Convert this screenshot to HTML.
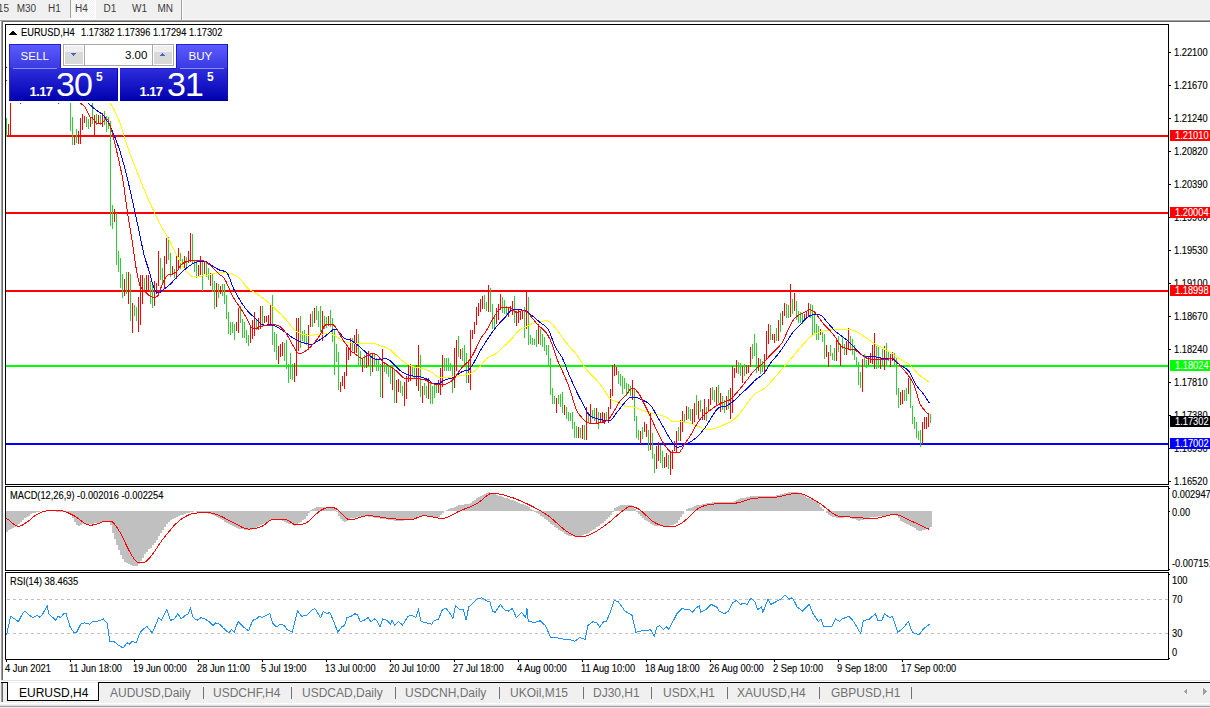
<!DOCTYPE html>
<html><head><meta charset="utf-8"><title>EURUSD,H4</title>
<style>
html,body{margin:0;padding:0;width:1210px;height:708px;overflow:hidden;background:#fff;}
.t{font-family:"Liberation Sans",sans-serif;}
.pn{position:absolute;}
svg{display:block}
</style></head><body>
<svg width="1210" height="708" style="position:absolute;left:0;top:0" shape-rendering="crispEdges">
<rect x="0" y="0" width="1210" height="20" fill="#f0f0f0"/>
<rect x="0" y="19" width="1210" height="1" fill="#f7f7f7"/>
<rect x="0" y="20" width="1210" height="1" fill="#a0a0a0"/>
<rect x="1" y="21" width="1210" height="1" fill="#696969"/>
<defs><pattern id="dith" width="2" height="2" patternUnits="userSpaceOnUse"><rect width="2" height="2" fill="#f0f0f0"/><rect width="1" height="1" fill="#ffffff"/><rect x="1" y="1" width="1" height="1" fill="#ffffff"/></pattern></defs>
<rect x="70" y="0" width="1" height="18" fill="#a0a0a0"/>
<rect x="71" y="0" width="24" height="18" fill="url(#dith)"/>
<rect x="95" y="0" width="1" height="19" fill="#ffffff"/>
<rect x="70" y="18" width="26" height="1" fill="#ffffff"/>
<rect x="181" y="0" width="1" height="20" fill="#a0a0a0"/>
<rect x="182" y="0" width="1" height="20" fill="#ffffff"/>
<text x="-10.5" y="12.3" font-size="10" fill="#3c3c3c" class="t">M15</text>
<text x="16.7" y="12.3" font-size="10" fill="#3c3c3c" class="t">M30</text>
<text x="48" y="12.3" font-size="10" fill="#3c3c3c" class="t">H1</text>
<text x="75" y="12.3" font-size="10" fill="#3c3c3c" class="t">H4</text>
<text x="103.6" y="12.3" font-size="10" fill="#3c3c3c" class="t">D1</text>
<text x="132" y="12.3" font-size="10" fill="#3c3c3c" class="t">W1</text>
<text x="157.5" y="12.3" font-size="10" fill="#3c3c3c" class="t">MN</text>
<rect x="0" y="22" width="1210" height="658" fill="#ffffff"/>
<rect x="0" y="21" width="1" height="659" fill="#f8f8f8"/>
<rect x="1" y="20" width="1" height="660" fill="#a0a0a0"/>
<rect x="2" y="21" width="1" height="659" fill="#696969"/>
<rect x="5" y="24" width="1164" height="1" fill="#000"/>
<rect x="5" y="484" width="1164" height="1" fill="#000"/>
<rect x="5" y="24" width="1" height="461" fill="#000"/>
<rect x="1168" y="24" width="1" height="461" fill="#000"/>
<rect x="5" y="486" width="1164" height="1" fill="#000"/>
<rect x="5" y="570" width="1164" height="1" fill="#000"/>
<rect x="5" y="486" width="1" height="85" fill="#000"/>
<rect x="1168" y="486" width="1" height="85" fill="#000"/>
<rect x="5" y="572" width="1164" height="1" fill="#000"/>
<rect x="5" y="659" width="1164" height="1" fill="#000"/>
<rect x="5" y="572" width="1" height="88" fill="#000"/>
<rect x="1168" y="572" width="1" height="88" fill="#000"/>
<rect x="1169" y="52" width="2" height="1" fill="#000"/>
<text transform="translate(1174 56) scale(0.93 1)" font-size="10" fill="#000" stroke="#000" stroke-width="0.12" class="t">1.22100</text>
<rect x="1169" y="85" width="2" height="1" fill="#000"/>
<text transform="translate(1174 89) scale(0.93 1)" font-size="10" fill="#000" stroke="#000" stroke-width="0.12" class="t">1.21670</text>
<rect x="1169" y="118" width="2" height="1" fill="#000"/>
<text transform="translate(1174 122) scale(0.93 1)" font-size="10" fill="#000" stroke="#000" stroke-width="0.12" class="t">1.21240</text>
<rect x="1169" y="151" width="2" height="1" fill="#000"/>
<text transform="translate(1174 155) scale(0.93 1)" font-size="10" fill="#000" stroke="#000" stroke-width="0.12" class="t">1.20820</text>
<rect x="1169" y="184" width="2" height="1" fill="#000"/>
<text transform="translate(1174 188) scale(0.93 1)" font-size="10" fill="#000" stroke="#000" stroke-width="0.12" class="t">1.20390</text>
<rect x="1169" y="217" width="2" height="1" fill="#000"/>
<text transform="translate(1174 221) scale(0.93 1)" font-size="10" fill="#000" stroke="#000" stroke-width="0.12" class="t">1.19960</text>
<rect x="1169" y="250" width="2" height="1" fill="#000"/>
<text transform="translate(1174 254) scale(0.93 1)" font-size="10" fill="#000" stroke="#000" stroke-width="0.12" class="t">1.19530</text>
<rect x="1169" y="283" width="2" height="1" fill="#000"/>
<text transform="translate(1174 287) scale(0.93 1)" font-size="10" fill="#000" stroke="#000" stroke-width="0.12" class="t">1.19100</text>
<rect x="1169" y="316" width="2" height="1" fill="#000"/>
<text transform="translate(1174 320) scale(0.93 1)" font-size="10" fill="#000" stroke="#000" stroke-width="0.12" class="t">1.18670</text>
<rect x="1169" y="349" width="2" height="1" fill="#000"/>
<text transform="translate(1174 353) scale(0.93 1)" font-size="10" fill="#000" stroke="#000" stroke-width="0.12" class="t">1.18240</text>
<rect x="1169" y="382" width="2" height="1" fill="#000"/>
<text transform="translate(1174 386) scale(0.93 1)" font-size="10" fill="#000" stroke="#000" stroke-width="0.12" class="t">1.17810</text>
<rect x="1169" y="415" width="2" height="1" fill="#000"/>
<text transform="translate(1174 419) scale(0.93 1)" font-size="10" fill="#000" stroke="#000" stroke-width="0.12" class="t">1.17380</text>
<rect x="1169" y="448" width="2" height="1" fill="#000"/>
<text transform="translate(1174 452) scale(0.93 1)" font-size="10" fill="#000" stroke="#000" stroke-width="0.12" class="t">1.16950</text>
<rect x="1169" y="481" width="2" height="1" fill="#000"/>
<text transform="translate(1174 485) scale(0.93 1)" font-size="10" fill="#000" stroke="#000" stroke-width="0.12" class="t">1.16520</text>
<rect x="1169" y="488" width="1" height="1" fill="#000"/>
<rect x="1169" y="511" width="1" height="1" fill="#000"/>
<rect x="1169" y="569" width="1" height="1" fill="#000"/>
<text transform="translate(1172 498) scale(0.93 1)" font-size="10" fill="#000" stroke="#000" stroke-width="0.12" class="t">0.002947</text>
<text transform="translate(1172 515.5) scale(0.93 1)" font-size="10" fill="#000" stroke="#000" stroke-width="0.12" class="t">0.00</text>
<text transform="translate(1172 567) scale(0.93 1)" font-size="10" fill="#000" stroke="#000" stroke-width="0.12" class="t">-0.007151</text>
<rect x="1169" y="574" width="1" height="1" fill="#000"/>
<rect x="1169" y="658" width="1" height="1" fill="#000"/>
<text transform="translate(1172 584) scale(0.93 1)" font-size="10" fill="#000" stroke="#000" stroke-width="0.12" class="t">100</text>
<text transform="translate(1172 603) scale(0.93 1)" font-size="10" fill="#000" stroke="#000" stroke-width="0.12" class="t">70</text>
<text transform="translate(1172 637) scale(0.93 1)" font-size="10" fill="#000" stroke="#000" stroke-width="0.12" class="t">30</text>
<text transform="translate(1172 656) scale(0.93 1)" font-size="10" fill="#000" stroke="#000" stroke-width="0.12" class="t">0</text>
<rect x="6" y="660" width="1" height="2" fill="#000"/>
<text transform="translate(5 672) scale(0.93 1)" font-size="10" fill="#000" stroke="#000" stroke-width="0.12" class="t">4 Jun 2021</text>
<rect x="70" y="660" width="1" height="2" fill="#000"/>
<text transform="translate(69 672) scale(0.93 1)" font-size="10" fill="#000" stroke="#000" stroke-width="0.12" class="t">11 Jun 18:00</text>
<rect x="134" y="660" width="1" height="2" fill="#000"/>
<text transform="translate(133 672) scale(0.93 1)" font-size="10" fill="#000" stroke="#000" stroke-width="0.12" class="t">19 Jun 00:00</text>
<rect x="198" y="660" width="1" height="2" fill="#000"/>
<text transform="translate(197 672) scale(0.93 1)" font-size="10" fill="#000" stroke="#000" stroke-width="0.12" class="t">28 Jun 11:00</text>
<rect x="262" y="660" width="1" height="2" fill="#000"/>
<text transform="translate(261 672) scale(0.93 1)" font-size="10" fill="#000" stroke="#000" stroke-width="0.12" class="t">5 Jul 19:00</text>
<rect x="326" y="660" width="1" height="2" fill="#000"/>
<text transform="translate(325 672) scale(0.93 1)" font-size="10" fill="#000" stroke="#000" stroke-width="0.12" class="t">13 Jul 00:00</text>
<rect x="390" y="660" width="1" height="2" fill="#000"/>
<text transform="translate(389 672) scale(0.93 1)" font-size="10" fill="#000" stroke="#000" stroke-width="0.12" class="t">20 Jul 10:00</text>
<rect x="454" y="660" width="1" height="2" fill="#000"/>
<text transform="translate(453 672) scale(0.93 1)" font-size="10" fill="#000" stroke="#000" stroke-width="0.12" class="t">27 Jul 18:00</text>
<rect x="518" y="660" width="1" height="2" fill="#000"/>
<text transform="translate(517 672) scale(0.93 1)" font-size="10" fill="#000" stroke="#000" stroke-width="0.12" class="t">4 Aug 00:00</text>
<rect x="582" y="660" width="1" height="2" fill="#000"/>
<text transform="translate(581 672) scale(0.93 1)" font-size="10" fill="#000" stroke="#000" stroke-width="0.12" class="t">11 Aug 10:00</text>
<rect x="646" y="660" width="1" height="2" fill="#000"/>
<text transform="translate(645 672) scale(0.93 1)" font-size="10" fill="#000" stroke="#000" stroke-width="0.12" class="t">18 Aug 18:00</text>
<rect x="710" y="660" width="1" height="2" fill="#000"/>
<text transform="translate(709 672) scale(0.93 1)" font-size="10" fill="#000" stroke="#000" stroke-width="0.12" class="t">26 Aug 00:00</text>
<rect x="774" y="660" width="1" height="2" fill="#000"/>
<text transform="translate(773 672) scale(0.93 1)" font-size="10" fill="#000" stroke="#000" stroke-width="0.12" class="t">2 Sep 10:00</text>
<rect x="838" y="660" width="1" height="2" fill="#000"/>
<text transform="translate(837 672) scale(0.93 1)" font-size="10" fill="#000" stroke="#000" stroke-width="0.12" class="t">9 Sep 18:00</text>
<rect x="902" y="660" width="1" height="2" fill="#000"/>
<text transform="translate(901 672) scale(0.93 1)" font-size="10" fill="#000" stroke="#000" stroke-width="0.12" class="t">17 Sep 00:00</text>
<clipPath id="cm"><rect x="6" y="25" width="1162" height="459"/></clipPath>
<clipPath id="cmacd"><rect x="6" y="487" width="1162" height="83"/></clipPath>
<clipPath id="crsi"><rect x="6" y="573" width="1162" height="86"/></clipPath>
<g clip-path="url(#cm)">
<rect x="6" y="135" width="1163" height="2" fill="#ff0000"/>
<rect x="6" y="212" width="1163" height="2" fill="#ff0000"/>
<rect x="6" y="290" width="1163" height="2" fill="#ff0000"/>
<rect x="6" y="365" width="1163" height="2" fill="#00ff00"/>
<rect x="6" y="443" width="1163" height="2" fill="#0000ff"/>
<path d="M6.5 118V137M70.5 103V131M72.5 117V145M76.5 129V143M86.5 117V127M88.5 119V129M92.5 103V124M96.5 114V125M100.5 115V125M104.5 111V125M106.5 116V132M108.5 117V129M110.5 121V226M112.5 205V229M116.5 213V265M118.5 251V272M120.5 258V288M122.5 274V298M126.5 272V294M130.5 274V321M134.5 305V316M136.5 307V321M144.5 278V291M150.5 281V304M152.5 283V308M160.5 258V280M162.5 268V284M168.5 237V260M170.5 253V277M174.5 269V278M180.5 253V269M182.5 259V265M186.5 257V268M192.5 234V263M194.5 260V272M196.5 260V278M202.5 262V291M206.5 263V277M208.5 268V280M212.5 274V292M214.5 281V309M218.5 284V298M222.5 284V296M224.5 284V304M226.5 295V319M228.5 312V334M230.5 322V335M232.5 322V333M234.5 324V340M240.5 306V323M242.5 319V338M244.5 322V338M246.5 330V343M248.5 335V346M256.5 320V330M262.5 306V326M272.5 295V345M274.5 332V352M276.5 334V360M284.5 343V361M286.5 340V369M288.5 364V383M290.5 353V379M292.5 364V380M300.5 316V348M302.5 331V341M304.5 330V343M306.5 334V345M312.5 311V327M316.5 306V320M318.5 311V327M320.5 306V332M324.5 316V329M326.5 317V328M330.5 310V327M332.5 318V342M334.5 329V375M336.5 344V362M338.5 352V390M352.5 338V351M358.5 334V365M360.5 351V366M364.5 355V368M370.5 354V376M374.5 354V366M376.5 358V371M378.5 359V371M380.5 364V397M384.5 363V372M386.5 363V374M388.5 366V377M390.5 367V384M394.5 369V403M400.5 381V393M402.5 386V396M412.5 367V377M414.5 368V378M420.5 355V397M424.5 383V395M426.5 386V398M430.5 383V404M432.5 386V404M434.5 383V398M436.5 384V393M444.5 358V371M446.5 358V371M448.5 358V371M450.5 363V371M452.5 367V393M458.5 336V357M462.5 348V361M464.5 345V364M466.5 353V383M484.5 295V309M486.5 302V311M490.5 288V312M492.5 304V329M494.5 316V328M502.5 297V313M504.5 300V314M506.5 306V317M514.5 296V323M524.5 307V338M528.5 297V345M530.5 335V344M532.5 338V345M534.5 339V345M536.5 330V347M540.5 329V345M542.5 334V347M544.5 337V351M546.5 345V355M548.5 345V366M550.5 358V395M552.5 388V404M554.5 396V404M558.5 395V404M560.5 394V407M562.5 392V413M566.5 407V419M568.5 412V421M570.5 413V421M572.5 412V429M574.5 422V438M576.5 426V438M580.5 428V438M584.5 425V440M588.5 412V423M592.5 410V419M594.5 408V421M598.5 412V429M606.5 412V421M618.5 371V384M620.5 374V386M622.5 376V394M624.5 378V389M626.5 383V396M628.5 384V392M630.5 386V396M634.5 388V421M636.5 416V438M638.5 430V440M642.5 427V439M648.5 430V451M652.5 433V459M654.5 454V473M660.5 445V463M662.5 451V468M668.5 455V469M678.5 427V441M684.5 414V422M688.5 407V419M690.5 409V421M696.5 395V415M700.5 400V412M706.5 407V421M712.5 387V400M714.5 390V402M718.5 385V403M722.5 396V410M724.5 400V413M728.5 390V409M738.5 362V374M740.5 363V376M744.5 364V376M752.5 344V359M754.5 334V356M756.5 343V373M760.5 359V374M762.5 361V372M770.5 325V340M776.5 328V341M780.5 313V332M786.5 304V318M788.5 305V318M792.5 299V314M796.5 301V320M798.5 311V323M800.5 312V323M802.5 314V324M810.5 304V318M812.5 305V335M814.5 313V335M816.5 324V340M818.5 326V340M822.5 331V342M824.5 334V359M830.5 345V356M832.5 353V360M834.5 348V361M838.5 336V352M842.5 337V349M844.5 344V355M850.5 336V351M852.5 339V355M854.5 345V360M856.5 357V366M858.5 362V385M860.5 372V388M864.5 354V367M866.5 360V368M876.5 346V369M878.5 347V368M882.5 349V366M886.5 343V365M888.5 351V361M894.5 353V366M896.5 358V395M898.5 388V408M904.5 390V401M906.5 388V401M910.5 377V408M912.5 406V424M914.5 417V429M916.5 422V438M918.5 431V440M920.5 430V447M930.5 414V423" stroke="#32cd32" stroke-width="1" fill="none"/>
<path d="M8.5 124V137M10.5 103V137M20.5 103V104M58.5 103V104M74.5 136V145M78.5 131V144M80.5 118V144M82.5 114V130M84.5 116V123M90.5 117V127M94.5 115V137M98.5 115V123M102.5 113V127M114.5 209V222M124.5 279V296M128.5 272V304M132.5 303V333M138.5 297V332M140.5 275V325M142.5 275V304M146.5 275V294M148.5 275V291M154.5 281V306M156.5 283V294M158.5 251V286M164.5 256V288M166.5 238V264M172.5 266V273M176.5 256V279M178.5 248V269M184.5 256V270M188.5 251V263M190.5 233V262M198.5 265V276M200.5 256V275M204.5 262V274M210.5 273V286M216.5 283V307M220.5 286V294M236.5 322V331M238.5 308V333M250.5 327V343M252.5 320V339M254.5 312V336M258.5 318V330M260.5 306V329M264.5 316V323M266.5 316V322M268.5 315V324M270.5 305V325M278.5 346V364M280.5 344V357M282.5 342V356M294.5 363V382M296.5 318V376M298.5 318V351M308.5 325V350M310.5 314V327M314.5 308V323M322.5 311V341M328.5 316V326M340.5 382V392M342.5 376V386M344.5 372V389M346.5 347V376M348.5 347V360M350.5 338V356M354.5 335V354M356.5 329V353M362.5 358V372M366.5 354V368M368.5 351V366M372.5 353V372M382.5 349V398M392.5 367V390M396.5 380V403M398.5 379V392M404.5 382V406M406.5 376V399M408.5 365V382M410.5 364V381M416.5 365V386M418.5 345V391M422.5 386V403M428.5 378V399M438.5 380V393M440.5 368V395M442.5 355V387M454.5 348V388M456.5 340V371M460.5 349V359M468.5 360V383M470.5 330V390M472.5 330V339M474.5 322V334M476.5 307V325M478.5 303V316M480.5 299V312M482.5 296V309M488.5 285V312M496.5 308V324M498.5 304V320M500.5 294V310M508.5 308V317M510.5 306V312M512.5 301V315M516.5 311V326M518.5 310V323M520.5 311V320M522.5 310V319M526.5 291V329M538.5 324V344M556.5 398V413M564.5 405V415M578.5 427V438M582.5 425V439M586.5 407V440M590.5 404V424M596.5 408V424M600.5 413V423M602.5 412V423M604.5 413V424M608.5 407V423M610.5 389V409M612.5 365V396M614.5 364V376M616.5 367V375M632.5 380V400M640.5 431V444M644.5 422V432M646.5 424V437M650.5 412V450M656.5 446V469M658.5 442V461M664.5 457V468M666.5 453V467M670.5 452V475M672.5 450V469M674.5 441V451M676.5 431V452M680.5 420V441M682.5 411V432M686.5 406V420M692.5 409V424M694.5 403V422M698.5 401V419M702.5 409V420M704.5 399V420M708.5 399V412M710.5 388V405M716.5 387V406M720.5 393V412M726.5 396V410M730.5 388V419M732.5 366V413M734.5 368V378M736.5 360V373M742.5 366V383M746.5 365V374M748.5 365V373M750.5 347V367M758.5 358V371M764.5 354V374M766.5 331V360M768.5 324V344M772.5 334V340M774.5 334V343M778.5 320V341M782.5 311V325M784.5 303V316M790.5 284V317M794.5 293V311M804.5 314V321M806.5 311V319M808.5 303V316M820.5 329V335M826.5 345V357M828.5 352V367M836.5 340V361M840.5 344V366M846.5 341V355M848.5 328V350M862.5 359V392M868.5 357V365M870.5 353V363M872.5 345V364M874.5 333V369M880.5 358V369M884.5 346V370M890.5 354V367M892.5 352V361M900.5 392V405M902.5 390V404M908.5 378V394M922.5 422V444M924.5 417V429M926.5 417V429M928.5 415V427" stroke="#ff0000" stroke-width="1" fill="none"/>
</g>
<g clip-path="url(#cm)">
<polyline points="110.0,103.0 112.0,106.2 114.0,109.6 116.0,113.6 118.0,118.0 120.0,123.0 122.0,129.0 124.0,135.7 126.0,142.2 128.0,148.0 130.0,153.6 132.0,159.0 134.0,164.2 136.0,169.4 138.0,174.4 140.0,179.3 142.0,184.2 144.0,189.0 146.0,193.7 148.0,198.4 150.0,202.9 152.0,207.4 154.0,211.7 156.0,215.9 158.0,220.0 160.0,224.0 162.0,227.7 164.0,231.0 166.0,234.3 168.0,237.7 170.0,241.5 172.0,245.6 174.0,249.7 176.0,253.7 178.0,257.5 180.0,261.2 182.0,264.8 184.0,268.1 186.0,270.7 188.0,273.1 190.0,275.0 192.0,276.3 194.0,276.8 196.0,276.7 198.0,276.6 200.0,276.4 202.0,276.1 204.0,275.7 206.0,275.2 208.0,274.6 210.0,274.2 212.0,273.8 214.0,273.4 216.0,273.1 218.0,272.9 220.0,272.7 222.0,272.5 224.0,272.5 226.0,272.6 228.0,272.9 230.0,273.4 232.0,274.0 234.0,274.9 236.0,276.0 238.0,277.2 240.0,278.8 242.0,280.9 244.0,283.6 246.0,286.4 248.0,288.6 250.0,290.1 252.0,291.1 254.0,292.1 256.0,293.4 258.0,294.7 260.0,296.1 262.0,297.5 264.0,299.1 266.0,300.6 268.0,302.3 270.0,304.0 272.0,305.8 274.0,307.6 276.0,309.5 278.0,311.4 280.0,313.3 282.0,315.3 284.0,317.4 286.0,319.6 288.0,322.0 290.0,324.5 292.0,327.0 294.0,329.3 296.0,331.0 298.0,332.4 300.0,333.6 302.0,334.4 304.0,334.9 306.0,335.0 308.0,335.0 310.0,335.0 312.0,335.0 314.0,335.0 316.0,334.9 318.0,334.7 320.0,334.4 322.0,334.1 324.0,333.9 326.0,333.6 328.0,333.5 330.0,333.4 332.0,334.0 334.0,335.0 336.0,336.4 338.0,337.6 340.0,339.0 342.0,340.5 344.0,341.9 346.0,342.7 348.0,342.6 350.0,342.4 352.0,342.6 354.0,342.9 356.0,343.4 358.0,343.8 360.0,344.0 362.0,343.9 364.0,343.8 366.0,343.6 368.0,343.4 370.0,343.3 372.0,343.2 374.0,343.4 376.0,344.0 378.0,344.8 380.0,345.6 382.0,346.3 384.0,346.8 386.0,347.5 388.0,348.4 390.0,349.7 392.0,351.5 394.0,353.4 396.0,355.4 398.0,357.2 400.0,358.9 402.0,360.6 404.0,362.2 406.0,363.5 408.0,364.6 410.0,365.5 412.0,366.2 414.0,366.9 416.0,367.4 418.0,367.7 420.0,368.0 422.0,368.3 424.0,368.9 426.0,369.6 428.0,370.3 430.0,371.2 432.0,372.4 434.0,374.0 436.0,375.7 438.0,377.0 440.0,377.5 442.0,377.6 444.0,377.5 446.0,377.5 448.0,377.4 450.0,377.2 452.0,376.9 454.0,376.6 456.0,376.4 458.0,376.1 460.0,375.9 462.0,375.6 464.0,375.3 466.0,374.8 468.0,374.2 470.0,373.5 472.0,372.5 474.0,371.3 476.0,369.9 478.0,368.3 480.0,366.4 482.0,364.1 484.0,361.6 486.0,359.3 488.0,357.5 490.0,356.4 492.0,355.6 494.0,354.8 496.0,353.7 498.0,352.0 500.0,350.2 502.0,348.2 504.0,346.3 506.0,344.4 508.0,342.5 510.0,340.6 512.0,338.5 514.0,336.3 516.0,333.9 518.0,331.5 520.0,329.7 522.0,328.5 524.0,327.7 526.0,326.9 528.0,325.9 530.0,324.8 532.0,323.8 534.0,323.0 536.0,322.4 538.0,322.0 540.0,321.6 542.0,321.3 544.0,321.0 546.0,320.8 548.0,321.0 550.0,322.2 552.0,324.1 554.0,326.4 556.0,328.8 558.0,331.2 560.0,333.8 562.0,336.7 564.0,339.6 566.0,342.4 568.0,344.9 570.0,347.2 572.0,349.4 574.0,351.5 576.0,353.9 578.0,356.6 580.0,359.8 582.0,363.1 584.0,366.4 586.0,369.3 588.0,371.5 590.0,373.5 592.0,375.4 594.0,377.4 596.0,379.6 598.0,381.9 600.0,384.3 602.0,386.9 604.0,389.7 606.0,393.0 608.0,396.2 610.0,398.5 612.0,399.9 614.0,400.7 616.0,401.4 618.0,402.2 620.0,403.3 622.0,404.4 624.0,405.4 626.0,406.3 628.0,406.7 630.0,406.9 632.0,406.9 634.0,407.1 636.0,407.6 638.0,408.4 640.0,409.3 642.0,410.2 644.0,411.0 646.0,411.6 648.0,412.2 650.0,412.8 652.0,413.3 654.0,413.9 656.0,414.4 658.0,414.8 660.0,415.2 662.0,415.7 664.0,416.2 666.0,417.0 668.0,418.4 670.0,420.0 672.0,421.3 674.0,421.9 676.0,421.9 678.0,421.9 680.0,421.9 682.0,421.9 684.0,422.0 686.0,422.3 688.0,422.7 690.0,423.3 692.0,423.9 694.0,424.7 696.0,425.6 698.0,426.5 700.0,427.2 702.0,428.0 704.0,428.7 706.0,429.3 708.0,429.5 710.0,429.4 712.0,429.0 714.0,428.5 716.0,427.9 718.0,427.3 720.0,426.5 722.0,425.7 724.0,424.8 726.0,423.8 728.0,422.9 730.0,421.9 732.0,420.8 734.0,419.3 736.0,417.6 738.0,415.4 740.0,413.0 742.0,410.4 744.0,407.7 746.0,404.9 748.0,402.2 750.0,399.6 752.0,397.1 754.0,394.9 756.0,393.1 758.0,391.8 760.0,390.9 762.0,389.9 764.0,388.6 766.0,386.9 768.0,384.9 770.0,382.8 772.0,380.6 774.0,378.4 776.0,376.2 778.0,373.8 780.0,371.5 782.0,369.1 784.0,366.7 786.0,364.4 788.0,362.1 790.0,359.8 792.0,357.5 794.0,355.2 796.0,352.8 798.0,350.4 800.0,348.1 802.0,345.7 804.0,343.5 806.0,341.3 808.0,339.1 810.0,337.2 812.0,335.6 814.0,334.3 816.0,333.3 818.0,332.4 820.0,331.7 822.0,331.2 824.0,330.8 826.0,330.5 828.0,330.3 830.0,330.0 832.0,329.7 834.0,329.4 836.0,329.3 838.0,329.3 840.0,329.3 842.0,329.3 844.0,329.3 846.0,329.3 848.0,329.3 850.0,329.5 852.0,330.0 854.0,330.8 856.0,331.7 858.0,332.6 860.0,333.8 862.0,335.0 864.0,336.4 866.0,337.7 868.0,339.1 870.0,340.5 872.0,342.0 874.0,343.4 876.0,344.6 878.0,345.6 880.0,346.6 882.0,347.6 884.0,348.7 886.0,349.8 888.0,351.0 890.0,352.2 892.0,353.5 894.0,354.8 896.0,356.2 898.0,357.7 900.0,359.1 902.0,360.4 904.0,361.5 906.0,362.5 908.0,363.6 910.0,365.0 912.0,366.9 914.0,369.2 916.0,371.6 918.0,373.8 920.0,375.6 922.0,377.2 924.0,378.6 926.0,380.0 928.0,381.4 929.3,382.4" stroke="#ffff00" stroke-width="1" fill="none"/>
<polyline points="88.0,103.0 90.0,104.8 92.0,106.6 94.0,108.4 96.0,110.0 98.0,111.3 100.0,112.5 102.0,114.0 104.0,116.2 106.0,119.0 108.0,122.3 110.0,126.0 112.0,130.3 114.0,135.1 116.0,140.0 118.0,145.4 120.0,151.3 122.0,158.0 124.0,165.4 126.0,173.1 128.0,181.2 130.0,189.8 132.0,198.7 134.0,207.7 136.0,216.9 138.0,226.3 140.0,235.7 142.0,245.4 144.0,254.6 146.0,261.4 148.0,267.4 150.0,274.3 152.0,281.8 154.0,288.1 156.0,291.7 158.0,293.0 160.0,292.4 162.0,290.7 164.0,289.1 166.0,287.6 168.0,286.1 170.0,284.4 172.0,282.4 174.0,280.1 176.0,277.8 178.0,275.8 180.0,273.8 182.0,271.9 184.0,270.1 186.0,268.5 188.0,267.0 190.0,265.5 192.0,264.2 194.0,263.1 196.0,262.3 198.0,261.8 200.0,261.5 202.0,261.5 204.0,261.5 206.0,261.7 208.0,262.9 210.0,264.5 212.0,265.7 214.0,266.9 216.0,268.1 218.0,269.3 220.0,270.3 222.0,270.7 224.0,271.1 226.0,272.0 228.0,274.3 230.0,279.1 232.0,284.8 234.0,289.4 236.0,293.3 238.0,296.8 240.0,300.2 242.0,303.4 244.0,306.3 246.0,309.0 248.0,311.5 250.0,313.6 252.0,315.4 254.0,317.1 256.0,319.0 258.0,321.1 260.0,323.1 262.0,324.5 264.0,325.0 266.0,325.1 268.0,324.9 270.0,324.7 272.0,325.0 274.0,325.7 276.0,326.6 278.0,327.6 280.0,328.8 282.0,330.0 284.0,331.4 286.0,332.9 288.0,334.5 290.0,336.0 292.0,337.4 294.0,338.6 296.0,339.6 298.0,340.6 300.0,341.4 302.0,342.3 304.0,343.0 306.0,343.7 308.0,344.1 310.0,344.4 312.0,344.3 314.0,343.4 316.0,342.1 318.0,340.8 320.0,339.7 322.0,338.5 324.0,337.2 326.0,335.6 328.0,333.8 330.0,332.2 332.0,330.4 334.0,329.1 336.0,329.4 338.0,331.0 340.0,333.1 342.0,335.7 344.0,337.9 346.0,339.1 348.0,339.3 350.0,339.8 352.0,340.9 354.0,342.3 356.0,343.8 358.0,345.4 360.0,347.1 362.0,348.9 364.0,350.7 366.0,352.5 368.0,354.2 370.0,355.9 372.0,357.5 374.0,358.6 376.0,359.4 378.0,359.9 380.0,360.0 382.0,359.3 384.0,358.6 386.0,358.7 388.0,359.4 390.0,360.7 392.0,362.5 394.0,364.4 396.0,366.4 398.0,368.5 400.0,370.4 402.0,371.8 404.0,373.0 406.0,373.9 408.0,374.8 410.0,375.4 412.0,375.9 414.0,376.2 416.0,376.5 418.0,376.6 420.0,376.8 422.0,377.2 424.0,377.9 426.0,378.7 428.0,379.7 430.0,381.1 432.0,382.8 434.0,383.9 436.0,383.9 438.0,383.6 440.0,382.9 442.0,381.8 444.0,380.5 446.0,379.6 448.0,379.1 450.0,378.7 452.0,378.1 454.0,377.2 456.0,375.9 458.0,374.4 460.0,372.9 462.0,371.6 464.0,370.9 466.0,370.5 468.0,369.9 470.0,368.6 472.0,366.1 474.0,362.6 476.0,358.7 478.0,354.8 480.0,351.3 482.0,348.0 484.0,344.7 486.0,341.6 488.0,338.5 490.0,335.5 492.0,332.6 494.0,329.8 496.0,327.3 498.0,324.9 500.0,322.7 502.0,320.6 504.0,318.5 506.0,316.2 508.0,313.5 510.0,311.2 512.0,309.8 514.0,309.7 516.0,309.7 518.0,309.7 520.0,309.8 522.0,310.0 524.0,310.5 526.0,311.2 528.0,312.3 530.0,313.9 532.0,315.6 534.0,317.2 536.0,319.0 538.0,320.7 540.0,322.5 542.0,324.0 544.0,325.2 546.0,326.8 548.0,329.2 550.0,333.1 552.0,338.5 554.0,344.0 556.0,348.3 558.0,351.3 560.0,354.0 562.0,357.3 564.0,361.8 566.0,367.0 568.0,372.2 570.0,377.0 572.0,381.6 574.0,386.1 576.0,390.3 578.0,394.5 580.0,398.4 582.0,402.2 584.0,406.1 586.0,410.0 588.0,413.4 590.0,415.8 592.0,417.1 594.0,417.7 596.0,418.3 598.0,418.9 600.0,419.5 602.0,419.9 604.0,420.2 606.0,420.5 608.0,420.7 610.0,420.7 612.0,419.2 614.0,416.4 616.0,413.6 618.0,411.1 620.0,408.5 622.0,405.9 624.0,403.4 626.0,400.8 628.0,398.8 630.0,397.6 632.0,397.1 634.0,397.0 636.0,397.4 638.0,398.1 640.0,399.0 642.0,399.9 644.0,400.8 646.0,401.7 648.0,402.9 650.0,404.7 652.0,407.3 654.0,410.6 656.0,414.3 658.0,417.7 660.0,421.2 662.0,424.7 664.0,428.2 666.0,431.8 668.0,435.5 670.0,438.8 672.0,441.8 674.0,444.7 676.0,446.8 678.0,447.3 680.0,446.8 682.0,445.9 684.0,444.9 686.0,443.9 688.0,443.0 690.0,442.1 692.0,440.9 694.0,439.5 696.0,437.9 698.0,436.0 700.0,433.9 702.0,431.6 704.0,429.1 706.0,426.3 708.0,423.2 710.0,419.9 712.0,416.5 714.0,413.5 716.0,410.5 718.0,408.3 720.0,407.2 722.0,406.7 724.0,406.5 726.0,406.0 728.0,405.0 730.0,403.7 732.0,402.3 734.0,400.6 736.0,398.9 738.0,396.8 740.0,394.7 742.0,392.9 744.0,391.2 746.0,389.5 748.0,387.6 750.0,385.5 752.0,383.4 754.0,381.3 756.0,379.5 758.0,378.0 760.0,376.7 762.0,375.3 764.0,373.3 766.0,370.5 768.0,367.2 770.0,364.0 772.0,361.3 774.0,358.9 776.0,356.7 778.0,354.3 780.0,351.6 782.0,348.8 784.0,345.8 786.0,342.8 788.0,339.7 790.0,336.5 792.0,333.5 794.0,331.1 796.0,329.1 798.0,327.3 800.0,325.3 802.0,322.9 804.0,320.5 806.0,318.5 808.0,316.9 810.0,315.6 812.0,314.9 814.0,314.8 816.0,314.6 818.0,314.6 820.0,315.0 822.0,316.1 824.0,318.2 826.0,320.8 828.0,323.1 830.0,325.4 832.0,327.7 834.0,329.8 836.0,331.8 838.0,333.5 840.0,335.0 842.0,336.4 844.0,337.8 846.0,339.3 848.0,341.0 850.0,343.0 852.0,345.1 854.0,347.2 856.0,349.3 858.0,351.5 860.0,353.6 862.0,355.2 864.0,356.1 866.0,356.3 868.0,356.3 870.0,356.2 872.0,356.4 874.0,356.7 876.0,357.0 878.0,357.4 880.0,357.8 882.0,358.1 884.0,358.3 886.0,358.3 888.0,358.3 890.0,358.4 892.0,359.0 894.0,360.2 896.0,361.8 898.0,363.5 900.0,365.0 902.0,366.2 904.0,367.2 906.0,368.5 908.0,370.3 910.0,373.0 912.0,376.8 914.0,381.0 916.0,384.7 918.0,387.6 920.0,389.9 922.0,392.2 924.0,394.8 926.0,397.8 928.0,401.0 929.3,403.0" stroke="#0000ff" stroke-width="1" fill="none"/>
<polyline points="80.0,103.0 82.0,104.3 84.0,105.8 86.0,108.7 88.0,113.3 90.0,117.0 92.0,117.5 94.0,120.0 96.0,123.0 98.0,123.9 100.0,124.0 102.0,122.9 104.0,121.0 106.0,119.4 108.0,119.9 110.0,125.4 112.0,132.0 114.0,139.6 116.0,148.0 118.0,156.8 120.0,165.6 122.0,175.3 124.0,187.1 126.0,201.8 128.0,215.9 130.0,227.9 132.0,239.7 134.0,253.6 136.0,267.5 138.0,277.9 140.0,285.4 142.0,289.3 144.0,290.6 146.0,292.4 148.0,294.5 150.0,296.1 152.0,297.0 154.0,297.2 156.0,297.2 158.0,295.6 160.0,290.0 162.0,285.0 164.0,280.6 166.0,277.1 168.0,275.0 170.0,274.5 172.0,274.3 174.0,273.3 176.0,271.9 178.0,269.8 180.0,266.6 182.0,264.0 184.0,262.6 186.0,261.8 188.0,261.2 190.0,260.6 192.0,260.2 194.0,260.0 196.0,260.0 198.0,260.0 200.0,260.0 202.0,260.2 204.0,261.0 206.0,262.1 208.0,263.5 210.0,265.1 212.0,266.9 214.0,268.9 216.0,271.0 218.0,273.1 220.0,274.8 222.0,276.1 224.0,277.9 226.0,281.5 228.0,286.1 230.0,290.5 232.0,294.7 234.0,298.6 236.0,301.9 238.0,304.6 240.0,307.5 242.0,310.6 244.0,313.9 246.0,317.3 248.0,321.2 250.0,325.3 252.0,328.1 254.0,329.0 256.0,328.8 258.0,327.7 260.0,326.6 262.0,326.2 264.0,325.9 266.0,325.7 268.0,325.4 270.0,325.1 272.0,325.0 274.0,324.9 276.0,325.0 278.0,325.5 280.0,326.6 282.0,328.4 284.0,330.6 286.0,333.2 288.0,336.4 290.0,340.0 292.0,343.8 294.0,347.3 296.0,350.4 298.0,353.2 300.0,353.6 302.0,353.0 304.0,352.0 306.0,350.6 308.0,349.1 310.0,347.3 312.0,345.3 314.0,343.0 316.0,340.7 318.0,338.1 320.0,334.9 322.0,330.5 324.0,326.5 326.0,324.5 328.0,324.0 330.0,324.0 332.0,324.0 334.0,325.3 336.0,327.8 338.0,330.8 340.0,334.4 342.0,338.3 344.0,341.5 346.0,344.3 348.0,347.0 350.0,350.0 352.0,351.9 354.0,353.2 356.0,354.5 358.0,356.0 360.0,357.7 362.0,358.5 364.0,357.8 366.0,356.6 368.0,355.4 370.0,354.1 372.0,353.4 374.0,353.6 376.0,354.3 378.0,356.0 380.0,358.5 382.0,361.0 384.0,362.7 386.0,364.1 388.0,365.4 390.0,366.5 392.0,367.5 394.0,369.0 396.0,370.7 398.0,372.5 400.0,374.6 402.0,376.6 404.0,378.1 406.0,378.8 408.0,378.6 410.0,378.4 412.0,378.3 414.0,378.4 416.0,378.6 418.0,378.8 420.0,379.0 422.0,379.2 424.0,379.5 426.0,380.2 428.0,381.3 430.0,382.4 432.0,383.2 434.0,383.9 436.0,384.5 438.0,384.7 440.0,384.8 442.0,384.8 444.0,384.6 446.0,384.0 448.0,383.1 450.0,382.0 452.0,380.6 454.0,378.7 456.0,376.1 458.0,373.1 460.0,370.1 462.0,367.4 464.0,365.3 466.0,363.6 468.0,361.8 470.0,359.5 472.0,356.4 474.0,352.6 476.0,348.6 478.0,344.1 480.0,339.7 482.0,336.5 484.0,334.1 486.0,331.3 488.0,327.7 490.0,323.9 492.0,320.4 494.0,316.8 496.0,313.7 498.0,311.0 500.0,308.8 502.0,307.5 504.0,307.2 506.0,307.2 508.0,307.2 510.0,307.6 512.0,308.8 514.0,311.0 516.0,312.3 518.0,312.0 520.0,311.3 522.0,310.7 524.0,310.7 526.0,311.6 528.0,313.0 530.0,315.1 532.0,317.7 534.0,320.2 536.0,322.7 538.0,325.0 540.0,326.8 542.0,328.5 544.0,330.3 546.0,332.5 548.0,335.5 550.0,339.3 552.0,344.0 554.0,349.8 556.0,356.2 558.0,361.5 560.0,366.0 562.0,370.2 564.0,374.7 566.0,379.4 568.0,384.3 570.0,389.6 572.0,396.0 574.0,403.2 576.0,408.9 578.0,412.7 580.0,415.5 582.0,417.8 584.0,420.0 586.0,421.6 588.0,422.7 590.0,423.3 592.0,423.4 594.0,423.4 596.0,423.3 598.0,423.1 600.0,422.7 602.0,422.3 604.0,421.9 606.0,421.2 608.0,419.8 610.0,417.5 612.0,414.5 614.0,411.4 616.0,407.7 618.0,404.1 620.0,401.0 622.0,398.7 624.0,396.9 626.0,395.0 628.0,392.5 630.0,389.6 632.0,387.9 634.0,388.3 636.0,390.1 638.0,392.6 640.0,395.6 642.0,399.4 644.0,403.4 646.0,407.4 648.0,411.5 650.0,415.7 652.0,420.0 654.0,424.4 656.0,428.9 658.0,433.2 660.0,437.1 662.0,440.9 664.0,444.2 666.0,447.1 668.0,449.5 670.0,451.5 672.0,452.4 674.0,452.4 676.0,452.4 678.0,452.4 680.0,451.9 682.0,448.8 684.0,445.0 686.0,442.1 688.0,439.2 690.0,436.2 692.0,432.9 694.0,429.2 696.0,425.5 698.0,422.2 700.0,419.4 702.0,416.9 704.0,414.9 706.0,413.3 708.0,411.9 710.0,410.5 712.0,409.0 714.0,407.4 716.0,406.1 718.0,404.9 720.0,403.8 722.0,402.8 724.0,402.0 726.0,401.5 728.0,400.8 730.0,399.8 732.0,398.0 734.0,395.8 736.0,393.6 738.0,391.3 740.0,388.8 742.0,386.4 744.0,383.9 746.0,381.3 748.0,378.7 750.0,375.9 752.0,373.3 754.0,371.1 756.0,369.1 758.0,367.3 760.0,365.7 762.0,364.1 764.0,362.3 766.0,360.1 768.0,357.8 770.0,355.5 772.0,353.4 774.0,351.4 776.0,349.5 778.0,347.4 780.0,345.3 782.0,342.8 784.0,339.1 786.0,334.6 788.0,330.2 790.0,325.8 792.0,321.9 794.0,319.1 796.0,317.1 798.0,315.6 800.0,314.4 802.0,313.5 804.0,312.6 806.0,311.4 808.0,310.2 810.0,309.7 812.0,310.3 814.0,311.7 816.0,313.7 818.0,316.5 820.0,319.3 822.0,321.9 824.0,324.4 826.0,326.7 828.0,328.6 830.0,330.5 832.0,332.9 834.0,335.5 836.0,338.3 838.0,341.8 840.0,345.0 842.0,346.8 844.0,347.8 846.0,348.5 848.0,349.1 850.0,349.3 852.0,349.3 854.0,349.5 856.0,350.5 858.0,352.0 860.0,353.7 862.0,355.2 864.0,356.5 866.0,357.8 868.0,358.7 870.0,359.0 872.0,359.0 874.0,359.0 876.0,359.0 878.0,359.0 880.0,359.3 882.0,359.7 884.0,360.0 886.0,359.8 888.0,359.2 890.0,358.5 892.0,358.2 894.0,359.0 896.0,361.0 898.0,363.1 900.0,365.4 902.0,367.8 904.0,370.2 906.0,372.4 908.0,374.9 910.0,377.8 912.0,381.0 914.0,385.0 916.0,390.8 918.0,397.8 920.0,403.8 922.0,407.2 924.0,409.6 926.0,411.8 928.0,413.7 929.3,415.0" stroke="#ff0000" stroke-width="1" fill="none"/>
</g>
<path d="M12 31h2v1h1v1h1v1h1v1h-8v-1h1v-1h1v-1h1z" fill="#000"/>
<text transform="translate(21 36) scale(0.93 1)" font-size="10" fill="#000" stroke="#000" stroke-width="0.12" class="t">EURUSD,H4</text>
<text transform="translate(81 36) scale(0.925 1)" font-size="10" fill="#000" stroke="#000" stroke-width="0.12" class="t">1.17382 1.17396 1.17294 1.17302</text>
<rect x="1170" y="130" width="40" height="11" fill="#ff0000"/>
<text transform="translate(1175 139) scale(0.93 1)" font-size="10" fill="#fff" stroke="#fff" stroke-width="0.1" class="t">1.21010</text>
<rect x="1170" y="207" width="40" height="11" fill="#ff0000"/>
<text transform="translate(1175 216) scale(0.93 1)" font-size="10" fill="#fff" stroke="#fff" stroke-width="0.1" class="t">1.20004</text>
<rect x="1170" y="285" width="40" height="11" fill="#ff0000"/>
<text transform="translate(1175 294) scale(0.93 1)" font-size="10" fill="#fff" stroke="#fff" stroke-width="0.1" class="t">1.18998</text>
<rect x="1170" y="360" width="40" height="11" fill="#00ff00"/>
<text transform="translate(1175 369) scale(0.93 1)" font-size="10" fill="#fff" stroke="#fff" stroke-width="0.1" class="t">1.18024</text>
<rect x="1170" y="416" width="40" height="11" fill="#000000"/>
<text transform="translate(1175 425) scale(0.93 1)" font-size="10" fill="#fff" stroke="#fff" stroke-width="0.1" class="t">1.17302</text>
<rect x="1170" y="438" width="40" height="11" fill="#0000ff"/>
<text transform="translate(1175 447) scale(0.93 1)" font-size="10" fill="#fff" stroke="#fff" stroke-width="0.1" class="t">1.17002</text>
<g clip-path="url(#cmacd)">
<text transform="translate(10 499) scale(0.93 1)" font-size="10" fill="#000" stroke="#000" stroke-width="0.12" class="t">MACD(12,26,9) -0.002016 -0.002254</text>
<path d="M6 511h2V532h-2ZM8 511h2V530h-2ZM10 511h2V529h-2ZM12 511h2V528h-2ZM14 511h2V527h-2ZM16 511h2V526h-2ZM18 511h2V524h-2ZM20 511h2V522h-2ZM22 511h2V520h-2ZM24 511h2V518h-2ZM26 511h2V517h-2ZM28 511h2V516h-2ZM30 511h2V514h-2ZM32 511h2V513h-2ZM34 511h2V513h-2ZM36 511h2V512h-2ZM38 511h2V512h-2ZM56 511h2V512h-2ZM58 511h2V512h-2ZM60 511h2V512h-2ZM62 511h2V512h-2ZM64 511h2V512h-2ZM66 511h2V513h-2ZM68 511h2V513h-2ZM70 511h2V515h-2ZM72 511h2V518h-2ZM74 511h2V522h-2ZM76 511h2V525h-2ZM78 511h2V526h-2ZM80 511h2V525h-2ZM82 511h2V524h-2ZM84 511h2V524h-2ZM86 511h2V524h-2ZM88 511h2V524h-2ZM90 511h2V524h-2ZM92 511h2V524h-2ZM94 511h2V523h-2ZM96 511h2V523h-2ZM98 511h2V523h-2ZM100 511h2V522h-2ZM102 511h2V522h-2ZM104 511h2V521h-2ZM106 511h2V521h-2ZM108 511h2V521h-2ZM110 511h2V525h-2ZM112 511h2V533h-2ZM114 511h2V539h-2ZM116 511h2V545h-2ZM118 511h2V550h-2ZM120 511h2V555h-2ZM122 511h2V559h-2ZM124 511h2V562h-2ZM126 511h2V563h-2ZM128 511h2V564h-2ZM130 511h2V565h-2ZM132 511h2V566h-2ZM134 511h2V566h-2ZM136 511h2V566h-2ZM138 511h2V564h-2ZM140 511h2V561h-2ZM142 511h2V558h-2ZM144 511h2V554h-2ZM146 511h2V552h-2ZM148 511h2V549h-2ZM150 511h2V548h-2ZM152 511h2V545h-2ZM154 511h2V543h-2ZM156 511h2V540h-2ZM158 511h2V536h-2ZM160 511h2V533h-2ZM162 511h2V530h-2ZM164 511h2V527h-2ZM166 511h2V524h-2ZM168 511h2V522h-2ZM170 511h2V520h-2ZM172 511h2V519h-2ZM174 511h2V518h-2ZM176 511h2V517h-2ZM178 511h2V516h-2ZM180 511h2V515h-2ZM182 511h2V515h-2ZM184 511h2V514h-2ZM186 511h2V513h-2ZM188 511h2V513h-2ZM190 511h2V512h-2ZM192 511h2V512h-2ZM196 511h2V512h-2ZM198 511h2V512h-2ZM200 511h2V512h-2ZM202 511h2V513h-2ZM204 511h2V513h-2ZM206 511h2V513h-2ZM208 511h2V514h-2ZM210 511h2V514h-2ZM212 511h2V515h-2ZM214 511h2V516h-2ZM216 511h2V517h-2ZM218 511h2V518h-2ZM220 511h2V519h-2ZM222 511h2V520h-2ZM224 511h2V522h-2ZM226 511h2V523h-2ZM228 511h2V524h-2ZM230 511h2V525h-2ZM232 511h2V526h-2ZM234 511h2V527h-2ZM236 511h2V528h-2ZM238 511h2V529h-2ZM240 511h2V529h-2ZM242 511h2V529h-2ZM244 511h2V530h-2ZM246 511h2V530h-2ZM248 511h2V530h-2ZM250 511h2V530h-2ZM252 511h2V529h-2ZM254 511h2V528h-2ZM256 511h2V527h-2ZM258 511h2V526h-2ZM260 511h2V525h-2ZM262 511h2V524h-2ZM264 511h2V523h-2ZM266 511h2V522h-2ZM268 511h2V521h-2ZM270 511h2V520h-2ZM272 511h2V520h-2ZM274 511h2V519h-2ZM276 511h2V519h-2ZM278 511h2V520h-2ZM280 511h2V520h-2ZM282 511h2V521h-2ZM284 511h2V522h-2ZM286 511h2V523h-2ZM288 511h2V524h-2ZM290 511h2V524h-2ZM292 511h2V525h-2ZM294 511h2V526h-2ZM296 511h2V525h-2ZM298 511h2V523h-2ZM300 511h2V522h-2ZM302 511h2V520h-2ZM304 511h2V519h-2ZM306 511h2V516h-2ZM308 511h2V513h-2ZM310 510h2V511h-2ZM312 509h2V511h-2ZM314 508h2V511h-2ZM316 507h2V511h-2ZM318 507h2V511h-2ZM320 507h2V511h-2ZM322 507h2V511h-2ZM324 507h2V511h-2ZM326 507h2V511h-2ZM328 507h2V511h-2ZM330 507h2V511h-2ZM332 507h2V511h-2ZM334 508h2V511h-2ZM336 511h2V512h-2ZM338 511h2V516h-2ZM340 511h2V519h-2ZM342 511h2V521h-2ZM344 511h2V522h-2ZM346 511h2V521h-2ZM348 511h2V520h-2ZM350 511h2V518h-2ZM352 511h2V518h-2ZM354 511h2V518h-2ZM356 511h2V517h-2ZM358 511h2V517h-2ZM360 511h2V516h-2ZM362 511h2V516h-2ZM364 511h2V516h-2ZM366 511h2V516h-2ZM368 511h2V517h-2ZM370 511h2V517h-2ZM372 511h2V517h-2ZM374 511h2V518h-2ZM376 511h2V518h-2ZM378 511h2V518h-2ZM380 511h2V519h-2ZM382 511h2V519h-2ZM384 511h2V519h-2ZM386 511h2V519h-2ZM388 511h2V520h-2ZM390 511h2V520h-2ZM392 511h2V520h-2ZM394 511h2V521h-2ZM396 511h2V521h-2ZM398 511h2V521h-2ZM400 511h2V521h-2ZM402 511h2V521h-2ZM404 511h2V520h-2ZM406 511h2V520h-2ZM408 511h2V520h-2ZM410 511h2V520h-2ZM412 511h2V519h-2ZM414 511h2V518h-2ZM416 511h2V517h-2ZM418 511h2V516h-2ZM420 511h2V516h-2ZM422 511h2V516h-2ZM424 511h2V516h-2ZM426 511h2V516h-2ZM428 511h2V516h-2ZM430 511h2V517h-2ZM432 511h2V517h-2ZM434 511h2V518h-2ZM436 511h2V518h-2ZM438 511h2V517h-2ZM440 511h2V515h-2ZM442 511h2V513h-2ZM446 510h2V511h-2ZM448 509h2V511h-2ZM450 508h2V511h-2ZM452 508h2V511h-2ZM454 507h2V511h-2ZM456 506h2V511h-2ZM458 505h2V511h-2ZM460 505h2V511h-2ZM462 505h2V511h-2ZM464 504h2V511h-2ZM466 504h2V511h-2ZM468 504h2V511h-2ZM470 503h2V511h-2ZM472 501h2V511h-2ZM474 500h2V511h-2ZM476 498h2V511h-2ZM478 497h2V511h-2ZM480 496h2V511h-2ZM482 495h2V511h-2ZM484 494h2V511h-2ZM486 493h2V511h-2ZM488 492h2V511h-2ZM490 493h2V511h-2ZM492 494h2V511h-2ZM494 494h2V511h-2ZM496 495h2V511h-2ZM498 496h2V511h-2ZM500 496h2V511h-2ZM502 497h2V511h-2ZM504 498h2V511h-2ZM506 498h2V511h-2ZM508 499h2V511h-2ZM510 500h2V511h-2ZM512 500h2V511h-2ZM514 501h2V511h-2ZM516 502h2V511h-2ZM518 503h2V511h-2ZM520 504h2V511h-2ZM522 504h2V511h-2ZM524 505h2V511h-2ZM526 506h2V511h-2ZM528 507h2V511h-2ZM530 509h2V511h-2ZM532 510h2V511h-2ZM534 511h2V512h-2ZM536 511h2V513h-2ZM538 511h2V514h-2ZM540 511h2V516h-2ZM542 511h2V517h-2ZM544 511h2V519h-2ZM546 511h2V520h-2ZM548 511h2V522h-2ZM550 511h2V524h-2ZM552 511h2V525h-2ZM554 511h2V527h-2ZM556 511h2V528h-2ZM558 511h2V530h-2ZM560 511h2V531h-2ZM562 511h2V532h-2ZM564 511h2V534h-2ZM566 511h2V535h-2ZM568 511h2V536h-2ZM570 511h2V536h-2ZM572 511h2V536h-2ZM574 511h2V537h-2ZM576 511h2V537h-2ZM578 511h2V537h-2ZM580 511h2V536h-2ZM582 511h2V535h-2ZM584 511h2V534h-2ZM586 511h2V534h-2ZM588 511h2V533h-2ZM590 511h2V531h-2ZM592 511h2V530h-2ZM594 511h2V529h-2ZM596 511h2V527h-2ZM598 511h2V526h-2ZM600 511h2V524h-2ZM602 511h2V523h-2ZM604 511h2V521h-2ZM606 511h2V519h-2ZM608 511h2V517h-2ZM610 511h2V515h-2ZM612 511h2V512h-2ZM614 508h2V511h-2ZM616 507h2V511h-2ZM618 506h2V511h-2ZM620 505h2V511h-2ZM622 505h2V511h-2ZM624 505h2V511h-2ZM626 505h2V511h-2ZM628 505h2V511h-2ZM630 505h2V511h-2ZM632 507h2V511h-2ZM634 509h2V511h-2ZM636 511h2V512h-2ZM638 511h2V514h-2ZM640 511h2V516h-2ZM642 511h2V518h-2ZM644 511h2V520h-2ZM646 511h2V521h-2ZM648 511h2V522h-2ZM650 511h2V524h-2ZM652 511h2V525h-2ZM654 511h2V526h-2ZM656 511h2V526h-2ZM658 511h2V526h-2ZM660 511h2V526h-2ZM662 511h2V526h-2ZM664 511h2V526h-2ZM666 511h2V526h-2ZM668 511h2V526h-2ZM670 511h2V525h-2ZM672 511h2V525h-2ZM674 511h2V524h-2ZM676 511h2V523h-2ZM678 511h2V520h-2ZM680 511h2V517h-2ZM682 511h2V514h-2ZM686 509h2V511h-2ZM688 508h2V511h-2ZM690 508h2V511h-2ZM692 507h2V511h-2ZM694 506h2V511h-2ZM696 505h2V511h-2ZM698 505h2V511h-2ZM700 505h2V511h-2ZM702 504h2V511h-2ZM704 504h2V511h-2ZM706 503h2V511h-2ZM708 503h2V511h-2ZM710 503h2V511h-2ZM712 502h2V511h-2ZM714 502h2V511h-2ZM716 502h2V511h-2ZM718 502h2V511h-2ZM720 502h2V511h-2ZM722 502h2V511h-2ZM724 502h2V511h-2ZM726 502h2V511h-2ZM728 502h2V511h-2ZM730 502h2V511h-2ZM732 502h2V511h-2ZM734 501h2V511h-2ZM736 500h2V511h-2ZM738 499h2V511h-2ZM740 498h2V511h-2ZM742 498h2V511h-2ZM744 498h2V511h-2ZM746 497h2V511h-2ZM748 497h2V511h-2ZM750 496h2V511h-2ZM752 496h2V511h-2ZM754 496h2V511h-2ZM756 496h2V511h-2ZM758 496h2V511h-2ZM760 496h2V511h-2ZM762 496h2V511h-2ZM764 496h2V511h-2ZM766 496h2V511h-2ZM768 496h2V511h-2ZM770 496h2V511h-2ZM772 496h2V511h-2ZM774 496h2V511h-2ZM776 495h2V511h-2ZM778 495h2V511h-2ZM780 494h2V511h-2ZM782 494h2V511h-2ZM784 493h2V511h-2ZM786 493h2V511h-2ZM788 492h2V511h-2ZM790 492h2V511h-2ZM792 492h2V511h-2ZM794 492h2V511h-2ZM796 492h2V511h-2ZM798 493h2V511h-2ZM800 494h2V511h-2ZM802 495h2V511h-2ZM804 496h2V511h-2ZM806 498h2V511h-2ZM808 498h2V511h-2ZM810 499h2V511h-2ZM812 500h2V511h-2ZM814 501h2V511h-2ZM816 501h2V511h-2ZM818 504h2V511h-2ZM820 507h2V511h-2ZM822 509h2V511h-2ZM826 511h2V513h-2ZM828 511h2V515h-2ZM830 511h2V516h-2ZM832 511h2V517h-2ZM834 511h2V517h-2ZM836 511h2V518h-2ZM838 511h2V518h-2ZM840 511h2V518h-2ZM842 511h2V518h-2ZM844 511h2V517h-2ZM846 511h2V517h-2ZM848 511h2V517h-2ZM850 511h2V518h-2ZM852 511h2V519h-2ZM854 511h2V519h-2ZM856 511h2V520h-2ZM858 511h2V521h-2ZM860 511h2V520h-2ZM862 511h2V520h-2ZM864 511h2V519h-2ZM866 511h2V519h-2ZM868 511h2V518h-2ZM870 511h2V517h-2ZM872 511h2V517h-2ZM874 511h2V517h-2ZM876 511h2V517h-2ZM878 511h2V516h-2ZM880 511h2V516h-2ZM882 511h2V516h-2ZM884 511h2V516h-2ZM886 511h2V516h-2ZM888 511h2V515h-2ZM890 511h2V515h-2ZM892 511h2V515h-2ZM894 511h2V515h-2ZM896 511h2V516h-2ZM898 511h2V518h-2ZM900 511h2V521h-2ZM902 511h2V522h-2ZM904 511h2V523h-2ZM906 511h2V524h-2ZM908 511h2V525h-2ZM910 511h2V526h-2ZM912 511h2V527h-2ZM914 511h2V528h-2ZM916 511h2V530h-2ZM918 511h2V531h-2ZM920 511h2V531h-2ZM922 511h2V530h-2ZM924 511h2V530h-2ZM926 511h2V529h-2ZM928 511h2V528h-2ZM930 511h2V527h-2Z" fill="#c0c0c0"/>
<polyline points="6.0,518.4 8.0,519.4 10.0,521.1 12.0,522.9 14.0,524.5 16.0,525.7 18.0,526.3 20.0,526.1 22.0,525.3 24.0,524.0 26.0,522.7 28.0,521.4 30.0,519.8 32.0,518.1 34.0,516.4 36.0,515.0 38.0,513.9 40.0,512.9 42.0,512.1 44.0,511.5 46.0,511.0 48.0,510.6 50.0,510.5 52.0,510.5 54.0,510.5 56.0,510.4 58.0,510.5 60.0,510.6 62.0,510.9 64.0,511.3 66.0,512.0 68.0,512.8 70.0,513.7 72.0,514.7 74.0,515.7 76.0,516.9 78.0,518.3 80.0,519.9 82.0,521.5 84.0,522.9 86.0,524.1 88.0,524.9 90.0,525.2 92.0,525.1 94.0,524.7 96.0,524.2 98.0,523.7 100.0,523.0 102.0,522.1 104.0,521.5 106.0,521.2 108.0,521.2 110.0,521.2 112.0,521.4 114.0,523.4 116.0,526.1 118.0,529.0 120.0,532.3 122.0,536.2 124.0,540.3 126.0,544.4 128.0,548.5 130.0,552.3 132.0,555.7 134.0,558.7 136.0,561.1 138.0,562.6 140.0,562.7 142.0,562.7 144.0,562.4 146.0,561.3 148.0,559.7 150.0,557.5 152.0,555.0 154.0,552.3 156.0,549.3 158.0,546.1 160.0,543.1 162.0,540.3 164.0,537.7 166.0,535.2 168.0,532.8 170.0,530.4 172.0,528.0 174.0,525.7 176.0,523.7 178.0,521.9 180.0,520.2 182.0,518.7 184.0,517.4 186.0,516.2 188.0,515.2 190.0,514.4 192.0,513.8 194.0,513.4 196.0,513.1 198.0,512.9 200.0,512.8 202.0,512.7 204.0,512.6 206.0,512.6 208.0,512.7 210.0,512.9 212.0,513.3 214.0,513.8 216.0,514.4 218.0,515.1 220.0,515.9 222.0,516.7 224.0,517.7 226.0,518.8 228.0,519.9 230.0,521.0 232.0,522.0 234.0,523.0 236.0,524.0 238.0,525.1 240.0,526.2 242.0,527.2 244.0,528.1 246.0,528.7 248.0,529.0 250.0,529.0 252.0,528.8 254.0,528.6 256.0,528.2 258.0,527.7 260.0,527.1 262.0,526.3 264.0,525.1 266.0,523.5 268.0,521.8 270.0,520.5 272.0,519.7 274.0,519.7 276.0,519.7 278.0,519.7 280.0,519.7 282.0,519.7 284.0,519.7 286.0,519.7 288.0,520.3 290.0,521.6 292.0,523.1 294.0,524.4 296.0,525.0 298.0,524.9 300.0,524.7 302.0,524.3 304.0,523.7 306.0,522.9 308.0,521.7 310.0,520.1 312.0,518.3 314.0,516.2 316.0,514.2 318.0,512.4 320.0,510.9 322.0,509.7 324.0,508.8 326.0,508.1 328.0,507.6 330.0,507.3 332.0,507.3 334.0,507.8 336.0,508.7 338.0,510.0 340.0,511.9 342.0,514.1 344.0,516.2 346.0,518.1 348.0,519.3 350.0,519.7 352.0,519.5 354.0,519.2 356.0,518.6 358.0,518.0 360.0,517.4 362.0,516.7 364.0,516.2 366.0,515.9 368.0,515.7 370.0,515.7 372.0,515.9 374.0,516.1 376.0,516.4 378.0,516.7 380.0,517.0 382.0,517.3 384.0,517.7 386.0,518.0 388.0,518.3 390.0,518.5 392.0,518.6 394.0,518.8 396.0,519.0 398.0,519.2 400.0,519.3 402.0,519.4 404.0,519.5 406.0,519.6 408.0,519.7 410.0,519.7 412.0,519.6 414.0,519.0 416.0,518.2 418.0,517.3 420.0,516.5 422.0,515.9 424.0,515.7 426.0,515.8 428.0,516.1 430.0,516.4 432.0,516.8 434.0,517.3 436.0,517.7 438.0,518.0 440.0,518.3 442.0,518.4 444.0,518.3 446.0,517.8 448.0,517.1 450.0,516.2 452.0,515.2 454.0,514.1 456.0,512.9 458.0,511.8 460.0,510.9 462.0,510.0 464.0,509.2 466.0,508.4 468.0,507.7 470.0,506.9 472.0,506.1 474.0,505.2 476.0,504.2 478.0,503.0 480.0,501.5 482.0,499.8 484.0,498.0 486.0,496.3 488.0,494.9 490.0,493.8 492.0,493.3 494.0,493.3 496.0,493.5 498.0,493.8 500.0,494.1 502.0,494.6 504.0,495.1 506.0,495.6 508.0,496.2 510.0,496.9 512.0,497.5 514.0,498.2 516.0,499.0 518.0,499.8 520.0,500.6 522.0,501.5 524.0,502.4 526.0,503.3 528.0,504.3 530.0,505.3 532.0,506.3 534.0,507.3 536.0,508.4 538.0,509.5 540.0,510.6 542.0,511.8 544.0,513.0 546.0,514.3 548.0,515.7 550.0,517.2 552.0,518.8 554.0,520.5 556.0,522.3 558.0,524.1 560.0,525.9 562.0,527.6 564.0,529.3 566.0,530.8 568.0,532.2 570.0,533.4 572.0,534.5 574.0,535.5 576.0,536.3 578.0,536.7 580.0,536.9 582.0,536.8 584.0,536.4 586.0,535.9 588.0,535.3 590.0,534.5 592.0,533.6 594.0,532.5 596.0,531.4 598.0,530.2 600.0,528.9 602.0,527.5 604.0,526.1 606.0,524.6 608.0,523.1 610.0,521.6 612.0,519.9 614.0,518.1 616.0,516.3 618.0,514.6 620.0,513.0 622.0,511.4 624.0,509.8 626.0,508.3 628.0,507.1 630.0,506.5 632.0,506.6 634.0,507.0 636.0,507.7 638.0,508.7 640.0,510.0 642.0,511.6 644.0,513.4 646.0,515.3 648.0,517.2 650.0,519.1 652.0,520.8 654.0,522.2 656.0,523.3 658.0,524.2 660.0,525.0 662.0,525.7 664.0,526.2 666.0,526.6 668.0,526.8 670.0,526.9 672.0,526.8 674.0,526.5 676.0,525.9 678.0,525.1 680.0,524.1 682.0,522.9 684.0,521.4 686.0,519.7 688.0,517.8 690.0,515.8 692.0,513.8 694.0,511.9 696.0,510.2 698.0,508.7 700.0,507.5 702.0,506.6 704.0,505.8 706.0,505.3 708.0,504.9 710.0,504.5 712.0,504.2 714.0,504.0 716.0,503.7 718.0,503.5 720.0,503.4 722.0,503.4 724.0,503.4 726.0,503.4 728.0,503.5 730.0,503.5 732.0,503.4 734.0,503.3 736.0,503.1 738.0,502.7 740.0,502.2 742.0,501.6 744.0,500.9 746.0,500.3 748.0,499.6 750.0,499.1 752.0,498.7 754.0,498.3 756.0,498.1 758.0,498.0 760.0,497.9 762.0,497.8 764.0,497.8 766.0,497.7 768.0,497.7 770.0,497.6 772.0,497.5 774.0,497.4 776.0,497.2 778.0,496.9 780.0,496.5 782.0,496.1 784.0,495.6 786.0,495.1 788.0,494.6 790.0,494.1 792.0,493.8 794.0,493.5 796.0,493.3 798.0,493.3 800.0,493.6 802.0,494.0 804.0,494.7 806.0,495.5 808.0,496.5 810.0,497.6 812.0,498.7 814.0,499.9 816.0,501.1 818.0,502.3 820.0,503.5 822.0,504.9 824.0,506.5 826.0,508.1 828.0,509.7 830.0,511.3 832.0,512.8 834.0,514.2 836.0,515.3 838.0,516.1 840.0,516.6 842.0,516.8 844.0,516.9 846.0,516.9 848.0,516.9 850.0,517.0 852.0,517.2 854.0,517.3 856.0,517.5 858.0,517.6 860.0,517.8 862.0,517.9 864.0,518.1 866.0,518.2 868.0,518.3 870.0,518.3 872.0,518.4 874.0,518.4 876.0,518.3 878.0,518.0 880.0,517.6 882.0,517.1 884.0,516.5 886.0,516.0 888.0,515.4 890.0,515.0 892.0,514.6 894.0,514.4 896.0,514.5 898.0,514.9 900.0,515.6 902.0,516.5 904.0,517.5 906.0,518.6 908.0,519.5 910.0,520.4 912.0,521.3 914.0,522.2 916.0,523.1 918.0,524.1 920.0,525.0 922.0,526.0 924.0,526.9 926.0,527.9 928.0,528.8 929.5,529.5" stroke="#ff0000" stroke-width="1" fill="none"/>
</g>
<g clip-path="url(#crsi)">
<text transform="translate(10 585) scale(0.93 1)" font-size="10" fill="#000" stroke="#000" stroke-width="0.12" class="t">RSI(14) 38.4635</text>
<path d="M7 599.5H1168M7 633.5H1168" stroke="#c0c0c0" stroke-width="1" stroke-dasharray="3,3"/>
<polyline points="6.6,634.8 10.6,616.3 14.6,618.9 18.5,621.6 22.5,613.7 25.1,611.0 29.1,615.0 33.1,617.6 37.0,615.5 39.7,617.1 42.3,615.0 45.0,609.7 47.1,605.7 48.9,613.7 52.9,617.6 55.6,620.3 58.2,616.3 60.8,617.6 63.5,613.7 66.1,613.7 70.1,626.9 74.1,632.7 76.7,632.2 80.7,624.2 84.7,622.9 89.9,624.2 92.6,621.6 96.6,621.6 100.5,620.3 103.2,618.9 107.1,622.9 109.8,641.4 113.8,641.4 117.7,644.6 123.0,648.0 127.0,642.8 129.6,644.1 132.3,641.4 136.2,642.8 140.2,632.2 146.8,626.1 152.1,633.0 156.1,624.2 158.7,617.6 161.4,620.3 166.7,609.7 170.6,620.3 174.6,618.9 177.8,613.7 181.2,618.9 185.2,615.5 187.8,614.4 190.5,608.4 193.1,617.6 197.1,620.3 201.1,617.6 205.0,618.9 209.0,621.6 213.0,625.6 215.6,622.9 219.6,624.2 223.5,628.2 228.8,633.0 231.5,629.5 234.1,632.2 238.1,621.6 243.4,626.9 248.7,630.8 252.6,620.3 256.6,618.9 259.3,616.3 261.9,617.6 267.2,615.0 269.8,613.7 272.5,622.9 276.5,626.9 280.4,624.2 284.4,625.6 287.0,629.5 292.3,632.2 297.6,611.0 301.6,616.3 306.9,615.0 310.8,611.0 314.8,608.4 320.6,617.6 323.2,611.8 327.2,613.7 329.8,612.3 333.8,621.6 337.8,632.2 341.7,626.9 344.4,625.6 347.0,617.6 351.0,616.3 355.0,613.7 357.6,615.0 360.3,621.6 364.2,620.3 368.2,617.6 370.8,621.6 374.8,618.9 377.5,621.6 380.1,626.9 382.8,618.9 386.7,620.3 390.7,624.2 392.0,620.3 394.7,625.6 398.6,621.6 402.6,625.0 407.9,616.3 411.9,615.5 415.8,617.6 418.5,609.7 421.1,621.6 426.4,622.9 431.7,624.2 434.3,620.3 438.3,619.7 442.3,609.7 446.2,608.4 450.2,613.7 452.9,618.9 455.5,605.7 459.5,609.7 463.4,609.7 466.1,620.3 468.7,607.0 472.7,603.1 476.7,599.1 482.0,597.8 487.2,601.2 489.9,601.7 492.5,611.0 495.2,612.3 500.5,604.4 504.4,609.7 508.4,611.0 512.4,608.4 516.3,617.6 521.6,612.3 525.6,617.6 526.9,608.4 528.3,621.6 534.9,622.4 540.2,620.8 545.4,625.6 550.7,637.5 556.0,637.5 564.0,639.3 571.9,640.1 574.6,641.4 579.8,637.5 585.1,639.3 587.8,625.6 593.1,621.6 597.0,622.9 599.7,626.9 603.7,621.6 606.3,621.6 610.3,612.3 614.2,600.4 618.2,601.7 622.2,607.0 624.8,611.0 631.9,615.0 635.9,632.2 639.8,631.4 643.8,630.3 646.5,630.8 650.4,629.5 654.4,636.1 657.0,626.9 659.7,625.6 663.7,629.5 666.3,626.9 668.9,629.5 672.9,621.6 676.9,613.7 682.2,608.4 686.1,609.7 688.8,609.2 692.8,612.3 695.4,608.4 699.4,605.7 700.7,612.3 706.0,609.7 711.3,604.4 716.6,607.0 719.2,611.0 724.5,613.7 728.5,611.0 732.4,603.1 736.4,600.4 740.4,604.4 744.3,603.1 747.0,604.4 751.0,597.8 754.9,601.7 757.6,609.7 761.5,607.0 762.9,612.3 768.1,599.1 770.8,604.4 776.1,601.7 781.4,598.6 785.3,595.1 789.3,599.1 792.0,597.8 794.6,601.7 797.2,607.0 802.5,611.0 809.2,604.4 813.1,613.7 818.4,621.6 821.1,618.9 823.7,626.9 831.6,626.9 835.6,618.9 839.6,621.6 842.2,618.9 848.8,616.3 852.8,620.3 856.8,626.9 860.7,633.5 863.4,620.3 868.7,619.7 875.3,613.7 877.9,620.3 881.9,620.3 884.6,613.7 889.8,617.6 892.5,616.3 897.8,632.2 903.1,628.2 908.4,621.6 912.3,632.2 918.9,634.8 924.2,628.2 929.5,624.2" stroke="#1e90ff" stroke-width="1" fill="none"/>
</g>
<rect x="1" y="680" width="1210" height="1" fill="#e3e3e3"/>
<rect x="1" y="681" width="1210" height="1" fill="#ffffff"/>
<rect x="0" y="682" width="1210" height="26" fill="#f0f0f0"/>
<rect x="1" y="682" width="7" height="1" fill="#000"/>
<rect x="99" y="682" width="1111" height="1" fill="#000"/>
<rect x="1" y="683" width="1" height="19" fill="#a0a0a0"/>
<rect x="2" y="683" width="1" height="19" fill="#696969"/>
<rect x="8" y="683" width="90" height="17" fill="#ffffff"/>
<rect x="7" y="682" width="1" height="19" fill="#000"/>
<rect x="98" y="682" width="1" height="19" fill="#000"/>
<rect x="7" y="700" width="92" height="1" fill="#000"/>
<rect x="0" y="703" width="1210" height="1" fill="#ffffff"/>
<rect x="0" y="705" width="1210" height="1" fill="#e0e0e0"/>
<rect x="0" y="706" width="1210" height="1" fill="#a0a0a0"/>
<text x="19" y="697" font-size="12" fill="#000" class="t">EURUSD,H4</text>
<text x="110" y="697" font-size="12" fill="#707070" class="t">AUDUSD,Daily</text>
<text x="213" y="697" font-size="12" fill="#707070" class="t">USDCHF,H4</text>
<text x="302" y="697" font-size="12" fill="#707070" class="t">USDCAD,Daily</text>
<text x="405" y="697" font-size="12" fill="#707070" class="t">USDCNH,Daily</text>
<text x="510" y="697" font-size="12" fill="#707070" class="t">UKOil,M15</text>
<text x="593" y="697" font-size="12" fill="#707070" class="t">DJ30,H1</text>
<text x="663" y="697" font-size="12" fill="#707070" class="t">USDX,H1</text>
<text x="737" y="697" font-size="12" fill="#707070" class="t">XAUUSD,H4</text>
<text x="831" y="697" font-size="12" fill="#707070" class="t">GBPUSD,H1</text>
<rect x="203" y="687" width="1" height="12" fill="#707070"/>
<rect x="291" y="687" width="1" height="12" fill="#707070"/>
<rect x="395" y="687" width="1" height="12" fill="#707070"/>
<rect x="499" y="687" width="1" height="12" fill="#707070"/>
<rect x="583" y="687" width="1" height="12" fill="#707070"/>
<rect x="651" y="687" width="1" height="12" fill="#707070"/>
<rect x="727" y="687" width="1" height="12" fill="#707070"/>
<rect x="819" y="687" width="1" height="12" fill="#707070"/>
<rect x="911" y="687" width="1" height="12" fill="#707070"/>
<path d="M1187 688V695L1183.5 691.5Z" fill="#a0a0a0"/>
<path d="M1203 688V695L1206.5 691.5Z" fill="#a0a0a0"/>
</svg>

<svg class="pn" style="left:0;top:0" width="232" height="104" shape-rendering="crispEdges">
<defs>
<linearGradient id="gt" x1="0" y1="0" x2="0" y2="1"><stop offset="0" stop-color="#5c5cff"/><stop offset="1" stop-color="#3a3ae4"/></linearGradient>
<linearGradient id="gp" x1="0" y1="0" x2="0" y2="1"><stop offset="0" stop-color="#2e2edc"/><stop offset="1" stop-color="#0000b0"/></linearGradient>
</defs>
<rect x="7" y="42" width="223" height="61" fill="#fff"/><rect x="6" y="66" width="1" height="1" fill="#ffff00"/><rect x="6" y="67" width="1" height="1" fill="#0000ff"/><rect x="6" y="80" width="1" height="1" fill="#ff0000"/>
<rect x="9" y="44" width="52" height="24" fill="url(#gt)"/>
<rect x="176" y="44" width="52" height="24" fill="url(#gt)"/>
<rect x="9" y="68" width="109" height="33" fill="url(#gp)"/>
<rect x="120" y="68" width="108" height="33" fill="url(#gp)"/>
<rect x="60" y="44" width="1" height="24" fill="#1c1cc8"/><rect x="9" y="44" width="52" height="1" fill="#2222cc"/><rect x="9" y="44" width="1" height="57" fill="#2222cc"/><rect x="176" y="44" width="52" height="1" fill="#2222cc"/><rect x="227" y="44" width="1" height="57" fill="#1010b8"/><rect x="9" y="100" width="109" height="1" fill="#00009c"/><rect x="120" y="100" width="108" height="1" fill="#00009c"/><rect x="117" y="68" width="1" height="33" fill="#0000b8"/>
<rect x="176" y="44" width="1" height="24" fill="#1c1cc8"/>
<rect x="61" y="68" width="57" height="1" fill="#1c1cc8"/><rect x="120" y="68" width="56" height="1" fill="#1c1cc8"/>
<rect x="13" y="68" width="44" height="1" fill="#8c8cff"/>
<rect x="180" y="68" width="44" height="1" fill="#8c8cff"/>
<rect x="63" y="44" width="111" height="22" fill="#a8a8b0"/>
<rect x="64" y="45" width="109" height="20" fill="#fff"/>
<rect x="84" y="45" width="1" height="20" fill="#a8a8b0"/>
<rect x="152" y="45" width="1" height="20" fill="#a8a8b0"/>
<rect x="65" y="46" width="18" height="6" fill="#efefef"/>
<rect x="65" y="52" width="18" height="12" fill="#d9d9d9"/>
<rect x="154" y="46" width="18" height="6" fill="#efefef"/>
<rect x="154" y="52" width="18" height="12" fill="#d9d9d9"/>
<path d="M71 53h5v1h-1v1h-1v1h-1v-1h-1v-1h-1z" fill="#4a64c8"/>
<path d="M160 55h5v1h-5zM161 54h3v1h-3zM162 53h1v1h-1z" fill="#4a64c8"/>
<text x="20.5" y="60.3" font-size="11.6" fill="#fff" class="t">SELL</text>
<text x="188.5" y="60.3" font-size="11.6" fill="#fff" class="t">BUY</text>
<text x="125" y="59" font-size="11.5" fill="#000" class="t">3.00</text>
<text x="29.5" y="96.3" font-size="13" font-weight="bold" fill="#fff" class="t" letter-spacing="-0.6">1.17</text>
<text x="56" y="96.3" font-size="34" fill="#fff" class="t" letter-spacing="-1">30</text>
<text x="96" y="80.5" font-size="12" font-weight="bold" fill="#fff" class="t">5</text>
<text x="139.5" y="96.3" font-size="13" font-weight="bold" fill="#fff" class="t" letter-spacing="-0.6">1.17</text>
<text x="167" y="96.3" font-size="34" fill="#fff" class="t" letter-spacing="-1">31</text>
<text x="207" y="80.5" font-size="12" font-weight="bold" fill="#fff" class="t">5</text>
</svg>

</body></html>
